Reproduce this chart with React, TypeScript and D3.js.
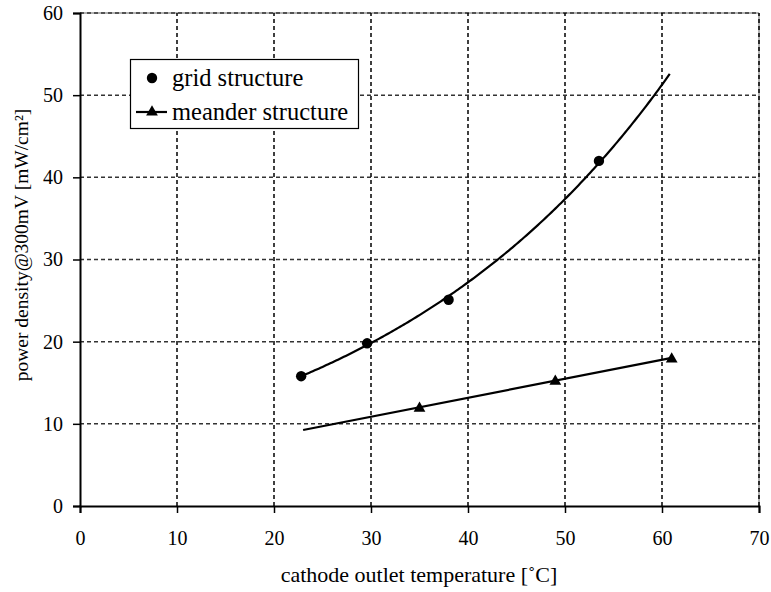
import React, { useEffect, useRef } from "react";
import * as d3 from "d3";

// measured points
const gridTemp = [22.8, 29.6, 38, 53.5];
const gridPower = [15.8, 19.8, 25.1, 42];
const meanderTemp = [35, 49, 61];
const meanderPower = [12.0, 15.3, 18.0];

// span of the trend lines drawn through the points
const gridTrendRange = [22.8, 60.8];
const meanderTrendRange = [23, 61];

const xTicks = [0, 10, 20, 30, 40, 50, 60, 70];
const yTicks = [0, 10, 20, 30, 40, 50, 60];

const seriesNames = ["grid structure", "meander structure"];

// least squares fit, optional log transform of y (exponential trendline)
function fit(xs: number[], ys: number[], expo: boolean) {
  const yy = expo ? ys.map((v) => Math.log(v)) : ys;
  const mx = d3.mean(xs) as number;
  const my = d3.mean(yy) as number;
  let sxy = 0;
  let sxx = 0;
  xs.forEach((x, i) => {
    sxy += (x - mx) * (yy[i] - my);
    sxx += (x - mx) * (x - mx);
  });
  const b = sxy / sxx;
  return (x: number) => {
    const v = my + b * (x - mx);
    return expo ? Math.exp(v) : v;
  };
}

const Chart = () => {
  const ref = useRef<SVGSVGElement>(null);

  useEffect(() => {
    const svg = d3.select(ref.current);
    svg.selectAll("*").remove();

    const width = 771;
    const height = 592;
    const margin = { top: 13, right: 12, bottom: 86, left: 80 };
    const font = "Liberation Serif";

    svg.attr("width", width).attr("height", height).attr("font-family", font);

    const x = d3
      .scaleLinear()
      .domain([0, 70])
      .range([margin.left, width - margin.right]);
    const y = d3
      .scaleLinear()
      .domain([0, 60])
      .range([height - margin.bottom, margin.top]);

    // border (top/right)
    svg
      .append("path")
      .attr("d", `M${x(0)},${y(60)}H${x(70)}V${y(0)}`)
      .attr("fill", "none")
      .attr("stroke", "#666")
      .attr("stroke-width", 1);

    // grid lines
    svg
      .append("g")
      .selectAll("line")
      .data(yTicks.filter((d) => d > 0))
      .enter()
      .append("line")
      .attr("x1", x(0))
      .attr("x2", x(70))
      .attr("y1", (d) => y(d))
      .attr("y2", (d) => y(d))
      .attr("stroke", "#333")
      .attr("stroke-width", 1.5)
      .attr("stroke-dasharray", "4,3");

    svg
      .append("g")
      .selectAll("line")
      .data(xTicks.filter((d) => d > 0))
      .enter()
      .append("line")
      .attr("x1", (d) => x(d))
      .attr("x2", (d) => x(d))
      .attr("y1", y(0))
      .attr("y2", y(60))
      .attr("stroke", "#000")
      .attr("stroke-width", 1.5)
      .attr("stroke-dasharray", "4,3");

    // axes
    const xAxis = svg
      .append("g")
      .attr("transform", `translate(0,${y(0)})`)
      .call(d3.axisBottom(x).tickValues(xTicks).tickSize(7).tickPadding(18));
    const yAxis = svg
      .append("g")
      .attr("transform", `translate(${x(0)},0)`)
      .call(d3.axisLeft(y).tickValues(yTicks).tickSize(7).tickPadding(10));

    [xAxis, yAxis].forEach((g) => {
      g.attr("font-family", font).attr("font-size", 20);
      g.select(".domain").attr("stroke", "#000").attr("stroke-width", 2);
      g.selectAll(".tick line").attr("stroke", "#000").attr("stroke-width", 1.5);
      g.selectAll(".tick text").attr("fill", "#000");
    });

    // trend lines
    const gridFit = fit(gridTemp, gridPower, true);
    const meanderFit = fit(meanderTemp, meanderPower, false);
    const xs = d3.range(gridTrendRange[0], gridTrendRange[1] + 0.001, 0.2);
    const line = d3.line<number>().x((d) => x(d));

    svg
      .append("path")
      .attr("d", line.y((d) => y(gridFit(d)))(xs))
      .attr("fill", "none")
      .attr("stroke", "#000")
      .attr("stroke-width", 2.2);
    svg
      .append("path")
      .attr("d", line.y((d) => y(meanderFit(d)))(meanderTrendRange))
      .attr("fill", "none")
      .attr("stroke", "#000")
      .attr("stroke-width", 2.2);

    // markers
    const tri = d3.symbol().type(d3.symbolTriangle).size(60);
    svg
      .append("g")
      .selectAll("circle")
      .data(gridTemp)
      .enter()
      .append("circle")
      .attr("cx", (d) => x(d))
      .attr("cy", (d, i) => y(gridPower[i]))
      .attr("r", 5.2)
      .attr("fill", "#000");
    svg
      .append("g")
      .selectAll("path")
      .data(meanderTemp)
      .enter()
      .append("path")
      .attr("d", tri)
      .attr("transform", (d, i) => `translate(${x(d)},${y(meanderPower[i]) + 1})`)
      .attr("fill", "#000");

    // legend
    const lg = svg.append("g");
    lg.append("rect")
      .attr("x", 130.5)
      .attr("y", 59.5)
      .attr("width", 228)
      .attr("height", 69)
      .attr("fill", "#fff")
      .attr("stroke", "#000")
      .attr("stroke-width", 1.2);
    lg.append("circle").attr("cx", 152).attr("cy", 78).attr("r", 5.2).attr("fill", "#000");
    lg.append("line")
      .attr("x1", 136)
      .attr("x2", 167)
      .attr("y1", 112)
      .attr("y2", 112)
      .attr("stroke", "#000")
      .attr("stroke-width", 2.2);
    lg.append("path").attr("d", tri).attr("transform", "translate(152,112)").attr("fill", "#000");
    seriesNames.forEach((name, i) => {
      lg.append("text")
        .attr("x", 172)
        .attr("y", 86 + i * 34)
        .attr("font-size", 24.5)
        .attr("fill", "#000")
        .text(name);
    });

    // axis titles
    svg
      .append("text")
      .attr("x", 419)
      .attr("y", 582)
      .attr("text-anchor", "middle")
      .attr("font-size", 22)
      .text("cathode outlet temperature [˚C]");
    svg
      .append("text")
      .attr("transform", "translate(28,245) rotate(-90)")
      .attr("text-anchor", "middle")
      .attr("font-size", 19.5)
      .text("power density@300mV  [mW/cm²]");
  }, []);

  return <svg ref={ref} style={{ position: "absolute", left: 0, top: 0 }}></svg>;
};

export default function App() {
  return <Chart />;
}
